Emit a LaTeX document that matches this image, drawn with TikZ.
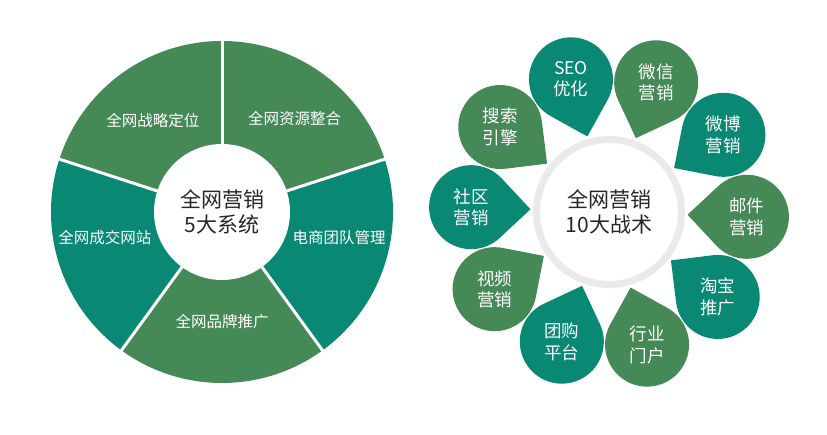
\documentclass[tikz,border=0pt]{standalone}
\usepackage{fontspec}
\newfontfamily\cjk{Noto Sans CJK SC}
\usetikzlibrary{positioning,calc}
\definecolor{pinegreen}{RGB}{69,137,86}
\definecolor{tealgreen}{RGB}{9,137,115}
\definecolor{ringgray}{RGB}{234,234,234}

\begin{document}
\begin{tikzpicture}[
    x=1pt, y=1pt,
    gap/.style={draw=white, line width=3pt},
    seclabel/.style={text=white, font=\cjk\fontsize{15.5}{18}\selectfont},
    droplabel/.style={text=white, align=center, font=\cjk\fontsize{17.5}{21.5}\selectfont},
    hub/.style={circle, fill=white, minimum size=136pt, inner sep=0pt, align=center, text=black!85, font=\cjk\fontsize{21}{25}\selectfont}
]
    \useasboundingbox (0,0) rectangle (827,435);
    \coordinate (pie) at (222,223);
    \coordinate (flower) at (609,223);

    % left: five systems
    \foreach \a/\col in {18/pinegreen, 90/pinegreen, 162/tealgreen, 234/pinegreen, 306/tealgreen}
        \fill[\col] (pie) -- ++(\a:171) arc[start angle=\a, end angle=\a+72, radius=171] -- cycle;
    \foreach \a in {18, 90, 162, 234, 306}
        \draw[gap] (pie) -- ++(\a:173);
    \node[hub] (systems) at (pie) {全网营销\\5大系统};

    \node[seclabel] (strategy) at ([shift={(127:115)}]pie) {全网战略定位};
    \node[seclabel] (resources) at ([shift={(52:118)}]pie) {全网资源整合};
    \node[seclabel] (team) at ([shift={(-12.5:120)}]pie) {电商团队管理};
    \node[seclabel] (brand) at ([shift={(-90:110)}]pie) {全网品牌推广};
    \node[seclabel] (website) at ([shift={(192.5:120)}]pie) {全网成交网站};

    % right: ten tactics
    \draw[ringgray, line width=7pt] (flower) circle[radius=72.5];
    \node[hub, fill=none] (tactics) at (flower) {全网营销\\10大战术};

    \foreach \i/\txt/\col in {0/{微信\\营销}/pinegreen, 1/{SEO\\优化}/tealgreen, 2/{搜索\\引擎}/pinegreen,
            3/{社区\\营销}/tealgreen, 4/{视频\\营销}/pinegreen, 5/{团购\\平台}/tealgreen,
            6/{行业\\门户}/pinegreen, 7/{淘宝\\推广}/tealgreen, 8/{邮件\\营销}/pinegreen,
            9/{微博\\营销}/tealgreen} {
        \pgfmathsetmacro\ang{70+36*\i}
        \coordinate (c\i) at ([shift={(\ang:138)}]flower);
        \fill[\col] ($(c\i)+(\ang+180:59.4)$) -- ($(c\i)+(\ang+225:42)$)
            arc[start angle=\ang+225, end angle=\ang+495, radius=42] -- cycle;
        \node[droplabel] (tactic\i) at (c\i) {\txt};
    }
\end{tikzpicture}
\end{document}
